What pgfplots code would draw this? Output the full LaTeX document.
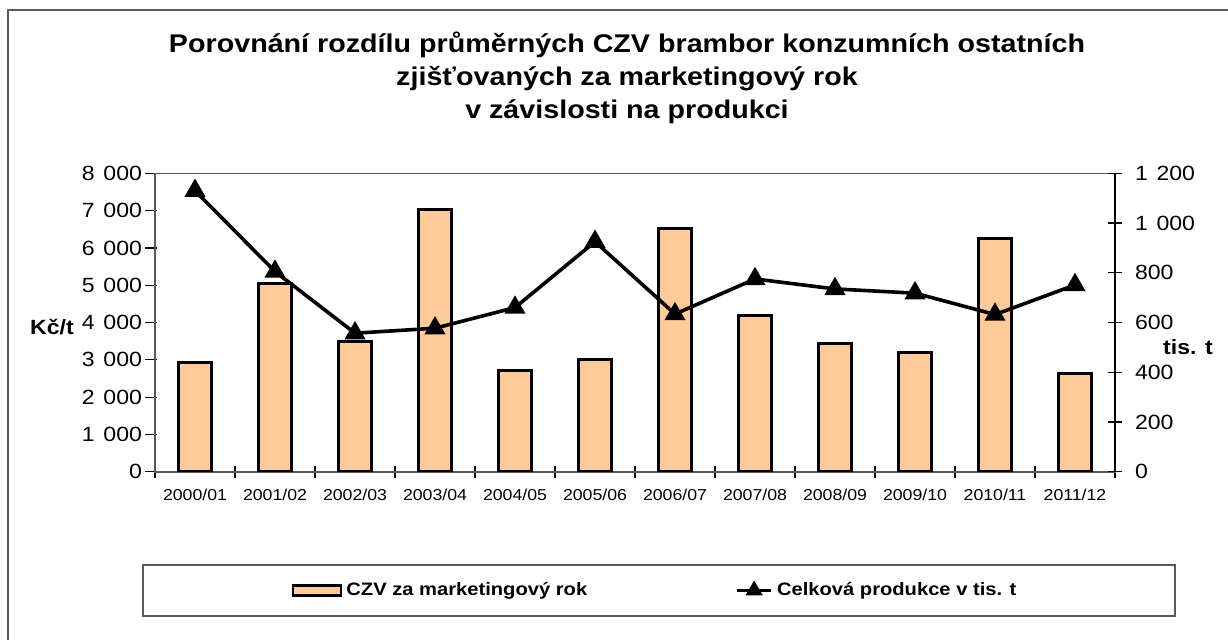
\documentclass[border=0pt]{standalone}
\usepackage{fontspec}
\setmainfont{Liberation Sans}[FakeStretch=1.12]
\usepackage{pgfplots}
\pgfplotsset{compat=1.18}

\definecolor{barfill}{RGB}{255,204,153}
\definecolor{framegray}{RGB}{90,90,90}

\begin{document}
\begin{tikzpicture}
\useasboundingbox (0pt,0pt) rectangle (614pt,319.5pt);
% outer chart frame (only left and top edges are visible)
\draw[framegray, line width=1pt] (4pt,-5pt) -- (4pt,314.5pt) -- (620pt,314.5pt);

\node[align=center, font=\fontsize{12.8}{16.5}\selectfont\bfseries] at (313.5pt,280.5pt)
  {Porovnání rozdílu průměrných CZV brambor konzumních ostatních\\
   zjišťovaných za marketingový rok\\
   v závislosti na produkci};

% legend frame
\draw[framegray, line width=0.8pt] (71.5pt,11.5pt) rectangle (587.5pt,37pt);

% bars: CZV (left axis)
\begin{axis}[
  at={(77.5pt,83.65pt)}, anchor=south west,
  scale only axis, width=480pt, height=149.2pt,
  xmin=-0.5, xmax=11.5, ymin=0, ymax=8000,
  axis line style={gray!70!black, line width=0.8pt},
  xtick={-0.5,0.5,...,11.5},
  x tick label as interval,
  xticklabels={2000/01,2001/02,2002/03,2003/04,2004/05,2005/06,2006/07,2007/08,2008/09,2009/10,2010/11,2011/12},
  xtick pos=bottom, ytick pos=left,
  ytick={0,1000,...,8000},
  tick align=center, major tick length=6pt,
  tick style={black, line width=0.6pt},
  y tick style={xshift=-2pt},
  x tick label style={font=\fontsize{7.9}{9}\selectfont, yshift=-2pt},
  y tick label style={font=\fontsize{10.3}{12}\selectfont},
  /pgf/number format/1000 sep={\hspace{0.42em}},
  /pgf/number format/assume math mode=true,
  legend style={at={(0.522,-0.398)}, anchor=center, draw=none, fill=none,
    legend columns=2, font=\fontsize{9}{11}\selectfont\bfseries,
    /tikz/every even column/.append style={column sep=72pt}},
]
\addplot[ybar, bar width=16.5pt, fill=barfill, draw=black, line width=1.5pt,
  legend image code/.code={\draw[fill=barfill, draw=black, line width=1.3pt] (0pt,-2.5pt) rectangle (24pt,2.5pt);}]
  coordinates {(0,2920) (1,5050) (2,3490) (3,7040) (4,2700) (5,3020)
               (6,6510) (7,4190) (8,3430) (9,3190) (10,6240) (11,2640)};
\addlegendentry{CZV za marketingový rok}
\addlegendimage{black, line width=1.8pt, mark=triangle*, mark size=3.2pt}
\addlegendentry{Celková produkce v tis. t}
\end{axis}

% line: production (right axis)
\begin{axis}[
  at={(77.5pt,83.65pt)}, anchor=south west,
  scale only axis, width=480pt, height=149.2pt,
  xmin=-0.5, xmax=11.5, ymin=0, ymax=1200,
  axis x line=none, axis y line*=right,
  axis line style={-, black, line width=0.8pt},
  ytick={0,200,...,1200},
  tick align=center, major tick length=7pt,
  tick style={black, line width=0.6pt},
  y tick label style={font=\fontsize{10.3}{12}\selectfont, xshift=3pt},
  /pgf/number format/1000 sep={\hspace{0.42em}},
  /pgf/number format/assume math mode=true,
]
\addplot[black, line width=1.8pt, mark=triangle*, mark size=4.3pt]
  coordinates {(0,1130) (1,805) (2,557) (3,577) (4,660) (5,925)
               (6,634) (7,775) (8,735) (9,718) (10,632) (11,751)};
\end{axis}

\node[font=\fontsize{10.3}{12}\selectfont\bfseries] at (26pt,156pt) {Kč/t};
\node[font=\fontsize{10.3}{12}\selectfont\bfseries] at (594pt,146pt) {tis. t};
\end{tikzpicture}
\end{document}
